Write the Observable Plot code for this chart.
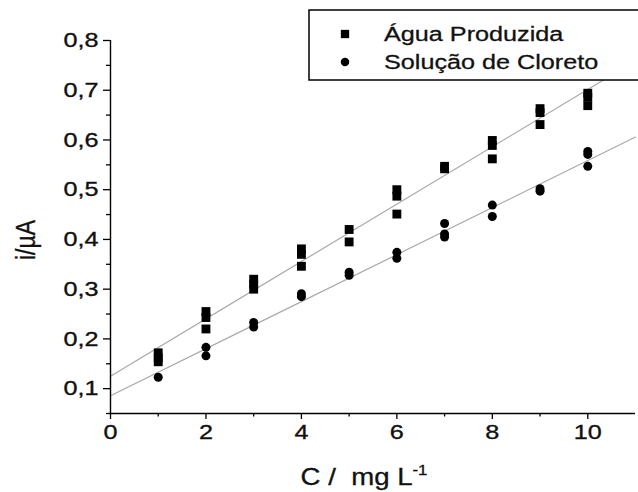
<!DOCTYPE html>
<html>
<head>
<meta charset="utf-8">
<script src="https://cdn.jsdelivr.net/npm/d3@7"></script>
<script src="https://cdn.jsdelivr.net/npm/@observablehq/plot@0.6"></script>
<style>
  html, body { margin: 0; padding: 0; background: #fff; }
  #chart { width: 638px; height: 492px; }
</style>
</head>
<body>
<div id="chart"></div>
<script>
// Series: Água Produzida (squares)
const aguaC = [1,1,1, 2,2,2, 3,3,3, 4,4,4, 5,5, 6,6,6, 7,7, 8,8,8, 9,9,9, 10,10,10];
const aguaI = [0.172,0.162,0.154, 0.255,0.243,0.220, 0.320,0.310,0.300, 0.381,0.370,0.346, 0.420,0.395, 0.500,0.487,0.451, 0.547,0.542, 0.599,0.589,0.562, 0.663,0.655,0.631, 0.694,0.686,0.669];
// Series: Solução de Cloreto (circles)
const clorC = [1, 2,2, 3,3, 4,4, 5,5, 6,6, 7,7,7, 8,8, 9,9, 10,10,10];
const clorI = [0.123, 0.183,0.166, 0.233,0.224, 0.291,0.285, 0.334,0.328, 0.374,0.362, 0.432,0.411,0.405, 0.469,0.446, 0.502,0.497, 0.577,0.571,0.547];

const seriesNames = ["Água Produzida", "Solução de Cloreto"];
const xMajor = [0, 2, 4, 6, 8, 10];
const xMinor = [1, 3, 5, 7, 9];
const yMajor = [0.1, 0.2, 0.3, 0.4, 0.5, 0.6, 0.7, 0.8];
const yMinor = [0.05, 0.15, 0.25, 0.35, 0.45, 0.55, 0.65, 0.75];
const xDomain = [0, 11];
const yDomain = [0.05, 0.8];

const agua = aguaC.map((c, i) => ({c, v: aguaI[i]}));
const clor = clorC.map((c, i) => ({c, v: clorI[i]}));

function fit(data) {
  const mx = d3.mean(data, d => d.c), my = d3.mean(data, d => d.v);
  const sxy = d3.sum(data, d => (d.c - mx) * (d.v - my));
  const sxx = d3.sum(data, d => (d.c - mx) ** 2);
  const b = sxy / sxx, a = my - b * mx;
  return xDomain.map(c => ({c, v: a + b * c}));
}

const FONT = "Liberation Sans, Arial, sans-serif";
const INK = "#111";

const chart = Plot.plot({
  width: 638,
  height: 492,
  marginLeft: 110,
  marginRight: 3,
  marginTop: 40,
  marginBottom: 79,
  x: {domain: xDomain},
  y: {domain: yDomain},
  style: {fontFamily: FONT, fontSize: "21px", color: INK, background: "white"},
  marks: [
    Plot.line(fit(agua), {x: "c", y: "v", stroke: "#a8a8a8", strokeWidth: 1.2}),
    Plot.line(fit(clor), {x: "c", y: "v", stroke: "#a8a8a8", strokeWidth: 1.2}),
    Plot.dot(agua, {x: "c", y: "v", symbol: "square", r: 5, fill: "#000", stroke: "none"}),
    Plot.dot(clor, {x: "c", y: "v", symbol: "circle", r: 4.5, fill: "#000", stroke: "none"}),
    Plot.ruleX([0], {stroke: "#000", strokeWidth: 1.4}),
    Plot.ruleY([yDomain[0]], {stroke: "#000", strokeWidth: 1.4}),
    Plot.axisX({ticks: xMajor, tickFormat: d => String(d), tickSize: 6, tickPadding: 5, label: null, stroke: "#000", strokeWidth: 1.3}),
    Plot.axisX({ticks: xMinor, tickFormat: () => "", tickSize: 3.5, label: null, stroke: "#000", strokeWidth: 1.3}),
    Plot.axisY({ticks: yMajor, tickFormat: d => d.toFixed(1).replace(".", ","), tickSize: 7, tickPadding: 5, label: null, stroke: "#000", strokeWidth: 1.3}),
    Plot.axisY({ticks: yMinor, tickFormat: () => "", tickSize: 4, label: null, stroke: "#000", strokeWidth: 1.3})
  ]
});

document.getElementById("chart").appendChild(chart);

// horizontal stretch + slight weight of text to match the reference's wide, heavy lettering
const SX = 1.2;
chart.querySelectorAll('g[aria-label="x-axis tick label"] text, g[aria-label="y-axis tick label"] text').forEach(t => {
  t.setAttribute("transform", (t.getAttribute("transform") || "") + ` scale(${SX},1)`);
  t.setAttribute("stroke", INK);
  t.setAttribute("stroke-width", 0.35);
});

const svg = d3.select(chart);

// axis titles
const xt = svg.append("text")
  .attr("transform", `translate(364,485) scale(${SX},1)`)
  .attr("text-anchor", "middle")
  .attr("font-family", FONT).attr("font-size", 23).attr("fill", INK)
  .attr("stroke", INK).attr("stroke-width", 0.3)
  .style("white-space", "pre");
xt.append("tspan").text("C /  mg L");
xt.append("tspan").attr("font-size", 14).attr("dy", -10).text("-1");

svg.append("text")
  .attr("transform", `translate(35,240) rotate(-90) scale(1,${SX})`)
  .attr("text-anchor", "middle")
  .attr("font-family", FONT).attr("font-size", 23).attr("fill", INK)
  .attr("stroke", INK).attr("stroke-width", 0.3)
  .text("i/µA");

// legend box
const lg = svg.append("g");
lg.append("rect").attr("x", 309).attr("y", 10).attr("width", 340).attr("height", 70)
  .attr("fill", "#fff").attr("stroke", "#000").attr("stroke-width", 1.5);
const rows = [34, 62];
lg.append("path").attr("d", d3.symbol(d3.symbolSquare, Math.PI * 22)()).attr("transform", `translate(345,${rows[0]})`).attr("fill", "#000");
lg.append("path").attr("d", d3.symbol(d3.symbolCircle, Math.PI * 18)()).attr("transform", `translate(345,${rows[1]})`).attr("fill", "#000");
seriesNames.forEach((n, i) => {
  lg.append("text").attr("transform", `translate(384,${rows[i] + 7}) scale(${SX},1)`)
    .attr("text-anchor", "start")
    .attr("font-family", FONT).attr("font-size", 21).attr("fill", INK)
    .attr("stroke", INK).attr("stroke-width", 0.3)
    .text(n);
});
</script>
</body>
</html>
